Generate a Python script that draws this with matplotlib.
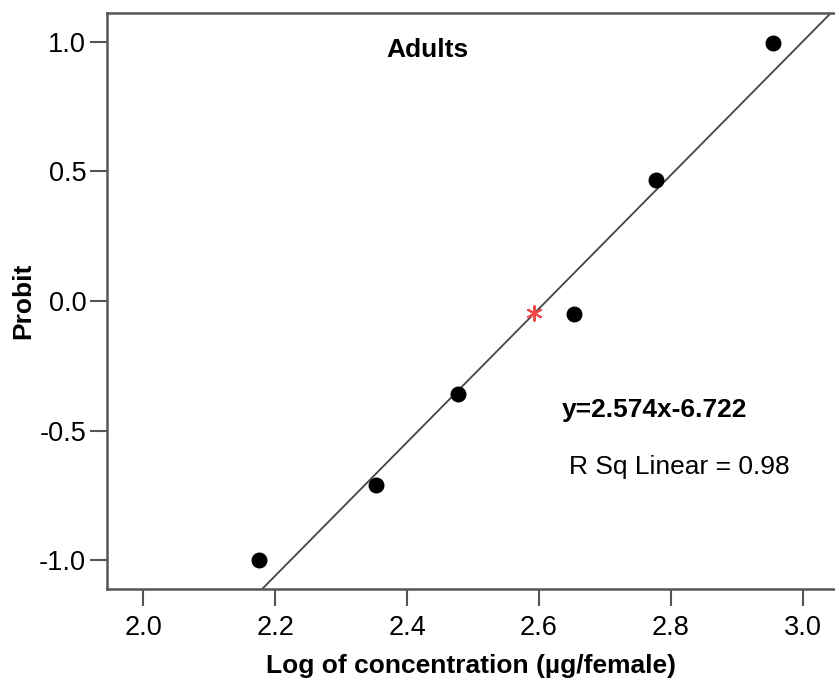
import numpy as np
import matplotlib
matplotlib.use('Agg')
import matplotlib.pyplot as plt

plt.rcParams['font.family'] = ['Liberation Sans', 'DejaVu Sans']

# data
log_conc = [2.176, 2.353, 2.4775, 2.6535, 2.778, 2.955]
probit = [-0.997, -0.708, -0.358, -0.050, 0.467, 0.994]
star_x = [2.592]
star_y = [-0.047]
slope = 2.574
intercept = -6.722
x_ticks = [2.0, 2.2, 2.4, 2.6, 2.8, 3.0]
y_ticks = [-1.0, -0.5, 0.0, 0.5, 1.0]

fig = plt.figure(figsize=(8.35, 6.85), dpi=100)
ax = fig.add_axes([107/835, 1-589/685, 1-107/835, (589-13)/685])

xlim = (1.945, 3.049)
ylim = (-1.11, 1.11)
ax.set_xlim(xlim)
ax.set_ylim(ylim)

xs = np.array(xlim)
ax.plot(xs, slope*xs + intercept, color='#444444', lw=1.3, zorder=2)
ax.scatter(log_conc, probit, s=110, color='black', zorder=3)
ax.scatter(star_x, star_y, s=110, marker=(6, 2, 0), color='#f04848', linewidths=1.5, zorder=4)

ax.set_xticks(x_ticks)
ax.set_xticklabels(['%.1f' % v for v in x_ticks])
ax.set_yticks(y_ticks)
ax.set_yticklabels(['%.1f' % v for v in y_ticks])

for s in ['left', 'bottom', 'top']:
    ax.spines[s].set_color('#555555')
    ax.spines[s].set_linewidth(1.8)
ax.spines['right'].set_visible(False)
ax.tick_params(direction='out', length=12, width=1.5, color='#555555', labelsize=19.5, pad=3)
ax.tick_params(axis='x', pad=7)

ax.set_xlabel('Log of concentration (µg/female)', fontsize=19, fontweight='bold', labelpad=9)
ax.set_ylabel('Probit', fontsize=19, fontweight='bold', labelpad=3)

fig.text(427/835, 1-50/685, 'Adults', fontsize=19, fontweight='bold', ha='center', va='center')
ax.text(2.634, -0.42, 'y=2.574x-6.722', fontsize=19, fontweight='bold', ha='left', va='center')
ax.text(2.646, -0.64, 'R Sq Linear = 0.98', fontsize=19, ha='left', va='center')

fig.savefig('out.png', dpi=100)
